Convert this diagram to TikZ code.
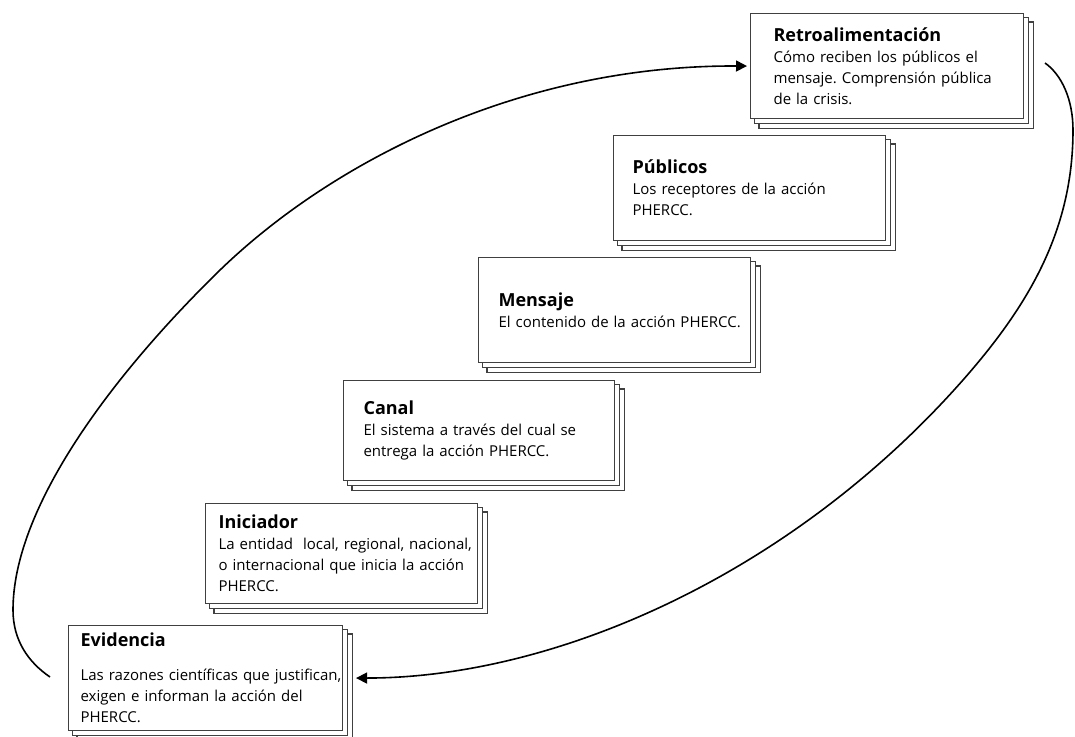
\documentclass[tikz,border=0pt]{standalone}
\usepackage{fontspec}
\setmainfont{Open Sans}
\usetikzlibrary{arrows.meta,backgrounds}
\frenchspacing
\newcommand\boxtitle[1]{{\bfseries\fontsize{18bp}{21bp}\selectfont #1}}
\newcommand\boxtext[2]{\hspace*{#1}\parbox[c]{\dimexpr 290bp-#1\relax}{\raggedright\frenchspacing #2}}
\begin{document}
\begin{tikzpicture}[x=1bp,y=-1bp,
  box/.style={draw=black!75, line width=1.1bp, fill=white, anchor=north west,
    inner sep=0pt, font=\fontsize{15bp}{21bp}\selectfont},
  shad/.style={draw=black!75, line width=1.1bp, fill=white},
  conn/.style={line width=1.6bp, black, -{Triangle[length=11bp,width=11bp]}}]
\useasboundingbox (0,0) rectangle (1075,737);

\node[box, minimum width=273bp, minimum height=105bp, text width=273bp] (retro) at (750,13)
  {\boxtext{23bp}{\boxtitle{Retroalimentación}\\ Cómo reciben los públicos el\\ mensaje. Comprensión pública\\ de la crisis.}};
\node[box, minimum width=272bp, minimum height=105bp, text width=272bp] (pub) at (613,135)
  {\boxtext{19bp}{\boxtitle{Públicos}\\ Los receptores de la acción\\ PHERCC.}};
\node[box, minimum width=272bp, minimum height=105bp, text width=272bp] (mens) at (478,257)
  {\boxtext{20bp}{\boxtitle{Mensaje}\\ El contenido de la acción PHERCC.}};
\node[box, minimum width=271bp, minimum height=100bp, text width=271bp] (canal) at (343,380)
  {\boxtext{20bp}{\boxtitle{Canal}\\ El sistema a través del cual se\\ entrega la acción PHERCC.}};
\node[box, minimum width=272bp, minimum height=100bp, text width=272bp] (inic) at (205,503)
  {\boxtext{13bp}{\boxtitle{Iniciador}\\ La entidad\ \ local, regional, nacional,\\ o internacional que inicia la acción\\ PHERCC.}};
\node[box, minimum width=274bp, minimum height=105bp, text width=274bp] (evid) at (68,625)
  {\boxtext{12bp}{\boxtitle{Evidencia}\\[13bp] Las razones científicas que justifican,\\ exigen e informan la acción del\\ PHERCC.}};

\begin{scope}[on background layer]
\foreach \n in {retro,pub,mens,canal,inic,evid}{
  \draw[shad] ([shift={(9,9)}]\n.north west) rectangle ([shift={(9,9)}]\n.south east);
  \draw[shad] ([shift={(4.5,4.5)}]\n.north west) rectangle ([shift={(4.5,4.5)}]\n.south east);
}
\end{scope}

\coordinate (s1) at (50,677);
\coordinate (e1) at ([xshift=-3]retro.west);
\coordinate (s2) at (1045,63);
\coordinate (e2) at ([xshift=13]evid.east);

\draw[conn] (s1) .. controls (28,662) and (13,640) .. (13,610)
  .. controls (13,510) and (107,381) .. (217,273)
  .. controls (327,165) and (516,65) .. (e1);
\draw[conn] (s2) .. controls (1062,75) and (1073,100) .. (1073,130)
  .. controls (1073,230) and (1029,305) .. (963,380)
  .. controls (791,575) and (555,678) .. (e2);
\end{tikzpicture}
\end{document}
